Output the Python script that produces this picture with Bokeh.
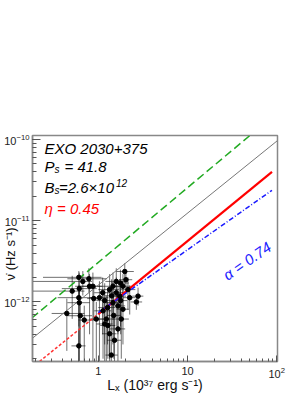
from bokeh.plotting import figure
from bokeh.models import Label, LogTickFormatter
from bokeh.embed import file_html
from bokeh.resources import INLINE

# ---- data (L_X in 1e37 erg/s, nudot in 1e-12 Hz/s) ----
lx =    [0.605, 0.784, 0.510, 0.612, 0.605, 0.444, 0.612, 0.605, 0.696, 0.798, 0.671, 0.628,
         1.98, 1.77, 1.59, 1.46, 1.34, 1.89, 2.15, 2.79, 2.67, 0.87, 1.03, 1.13, 1.23, 1.28,
         1.18, 1.34, 1.52, 1.40, 1.66, 1.81, 2.04, 1.66, 1.46, 1.27, 1.74, 1.59, 0.95, 1.89,
         1.12, 1.41, 1.18, 1.49, 1.78, 2.25, 0.89]
lx_lo = [0.24, 0.45, 0.17, 0.39, 0.35, 0.30, 0.45, 0.50, 0.60, 0.55, 0.17, 0.45,
         1.6, 1.4, 1.2, 1.1, 1.0, 1.5, 1.8, 2.4, 2.3, 0.6, 0.8, 0.9, 1.0, 1.05,
         0.95, 1.1, 1.25, 1.2, 1.35, 1.5, 1.7, 1.4, 1.2, 1.0, 1.45, 1.3, 0.8, 1.6,
         0.9, 1.15, 0.95, 1.25, 1.5, 1.9, 0.75]
lx_hi = [1.09, 1.25, 0.70, 0.96, 0.90, 0.70, 0.80, 0.72, 1.00, 1.10, 0.85, 0.85,
         2.5, 2.2, 2.1, 1.9, 1.7, 2.3, 2.6, 3.2, 3.1, 1.1, 1.3, 1.4, 1.5, 1.55,
         1.45, 1.6, 1.8, 1.65, 2.0, 2.2, 2.4, 2.0, 1.75, 1.55, 2.05, 1.9, 1.15, 2.2,
         1.35, 1.7, 1.45, 1.8, 2.1, 2.6, 1.05]
nd =    [2.01, 1.93, 1.36, 1.46, 1.13, 0.722, 0.98, 0.288, 0.599, 1.56, 1.79, 0.677,
         2.37, 1.71, 1.79, 1.56, 1.42, 1.56, 1.42, 1.18, 1.00, 1.56, 1.13, 0.778, 0.616, 0.513,
         0.536, 0.406, 0.338, 0.222, 0.466, 0.616, 1.88, 0.895, 0.98, 0.853, 1.18, 1.30, 0.616, 0.814,
         1.30, 1.19, 1.04, 0.683, 1.04, 1.13, 1.10]
nd_lo = [0.15, 1.3, 0.62, 0.9, 0.5, 0.25, 0.15, 0.15, 0.15, 0.4, 1.2, 0.3,
         1.7, 0.5, 1.0, 0.6, 0.2, 0.9, 0.8, 0.9, 0.8, 0.15, 0.15, 0.2, 0.15, 0.2,
         0.15, 0.15, 0.15, 0.15, 0.15, 0.2, 1.3, 0.4, 0.3, 0.3, 0.6, 0.5, 0.15, 0.3,
         0.4, 0.5, 0.3, 0.2, 0.4, 0.7, 0.6]
nd_hi = [2.4, 2.6, 2.1, 2.3, 1.6, 1.1, 1.4, 0.45, 0.9, 2.2, 2.4, 1.0,
         3.0, 2.5, 2.6, 2.3, 2.2, 2.2, 2.0, 1.5, 1.25, 2.3, 1.8, 1.4, 1.2, 1.0,
         1.1, 0.8, 0.7, 0.5, 1.0, 1.2, 2.5, 1.6, 1.7, 1.5, 1.9, 2.0, 1.0, 1.4,
         2.0, 1.9, 1.7, 1.3, 1.7, 1.6, 1.6]
UNIT = 1e-12

# model lines (end points)
green_x = [0.18, 50.0];  green_y = [0.634e-12, 112e-12]
gray_x = [0.18, 102.0];  gray_y = [0.353e-12, 97e-12]
red_ext_x = [0.219, 1.0]; red_ext_y = [0.185e-12, 0.71e-12]
red_x = [1.0, 88.5];     red_y = [0.71e-12, 40e-12]
blue_x = [1.0, 88.5];    blue_y = [0.74e-12, 23.7e-12]

x_title = "L\u2093 (10\u00b3\u2077 erg s\u207b\u00b9)"
y_title = "\u03bd\u0307 (Hz s\u207b\u00b9)" + "\u00a0" * 3

p = figure(width=305, height=395, x_axis_type="log", y_axis_type="log",
           x_range=(0.183, 102), y_range=(1.85e-13, 1.12e-10),
           output_backend="svg", toolbar_location=None,
           min_border_left=31, min_border_right=28, min_border_top=135, min_border_bottom=30)
p.grid.visible = False
p.outline_line_color = "#888888"
p.outline_line_width = 1.5

for ax in (p.xaxis[0], p.yaxis[0]):
    ax.axis_line_color = "#888888"
    ax.axis_line_width = 1.5
    ax.major_tick_line_color = "#555555"
    ax.minor_tick_line_color = "#555555"
    ax.major_tick_out = 0
    ax.minor_tick_out = 0
    ax.major_label_text_font = "Liberation Sans"
    ax.major_label_text_font_size = "11px"
    ax.major_label_text_color = "#222222"
    ax.axis_label_text_font = "Liberation Sans"
    ax.axis_label_text_font_style = "normal"
    ax.axis_label_text_color = "#111111"
    ax.ticker.num_minor_ticks = 10
p.xaxis.major_tick_in = 6
p.xaxis.minor_tick_in = 3
p.yaxis.major_tick_in = 8
p.yaxis.minor_tick_in = 4
p.xaxis.formatter = LogTickFormatter(min_exponent=2)
p.xaxis.major_label_standoff = 5
p.yaxis.major_label_standoff = 3
p.xaxis.axis_label = x_title
p.xaxis.axis_label_text_font_size = "14px"
p.xaxis.axis_label_standoff = -4
p.yaxis.axis_label = y_title
p.yaxis.axis_label_text_font_size = "13px"
p.yaxis.axis_label_standoff = -17

# error bars
y = [v * UNIT for v in nd]
ylo = [v * UNIT for v in nd_lo]
yhi = [v * UNIT for v in nd_hi]
p.segment(x0=lx_lo, y0=y, x1=lx_hi, y1=y, line_color="#111111", line_alpha=0.6, line_width=1)
p.segment(x0=lx, y0=ylo, x1=lx, y1=yhi, line_color="#111111", line_alpha=0.6, line_width=1)

# model lines
p.line(green_x, green_y, line_color="#22aa22", line_width=1.5, line_dash="8 4")
p.line(gray_x, gray_y, line_color="#777777", line_width=1)
p.line(red_ext_x, red_ext_y, line_color="#ff3333", line_width=1.5, line_dash="3 2")
p.line(red_x, red_y, line_color="#ff0000", line_width=2.2)
p.line(blue_x, blue_y, line_color="#1a1aff", line_width=1.5, line_dash="5 2 1 2")

p.scatter(lx, y, size=4.5, color="black")

def lab(txt, sx, sy, size, color="black", style="italic", angle=0.0):
    p.add_layout(Label(x=sx, y=sy, x_units="screen", y_units="screen", text=txt,
                       text_font="Liberation Sans", text_font_size=f"{size}px",
                       text_font_style=style, text_color=color, angle=angle,
                       text_baseline="alphabetic", text_align="left"))

bx = 12
lab("EXO 2030+375", bx, 213, 15)
lab("P", bx, 195, 15)
lab("s", bx + 10, 192, 10)
lab("= 41.8", bx + 20, 195, 15)
lab("B", bx, 174, 15)
lab("s", bx + 10, 171, 10)
lab("=2.6\u00d710", bx + 14.5, 174, 15)
lab("12", bx + 71.5, 179, 10)
lab("\u03b7 = 0.45", bx, 153, 15, color="#ff0000")
lab("\u03b1 = 0.74", 192, 85, 15, color="#1a1aff", angle=0.61)

open("out.html", "w").write(file_html(p, INLINE))
